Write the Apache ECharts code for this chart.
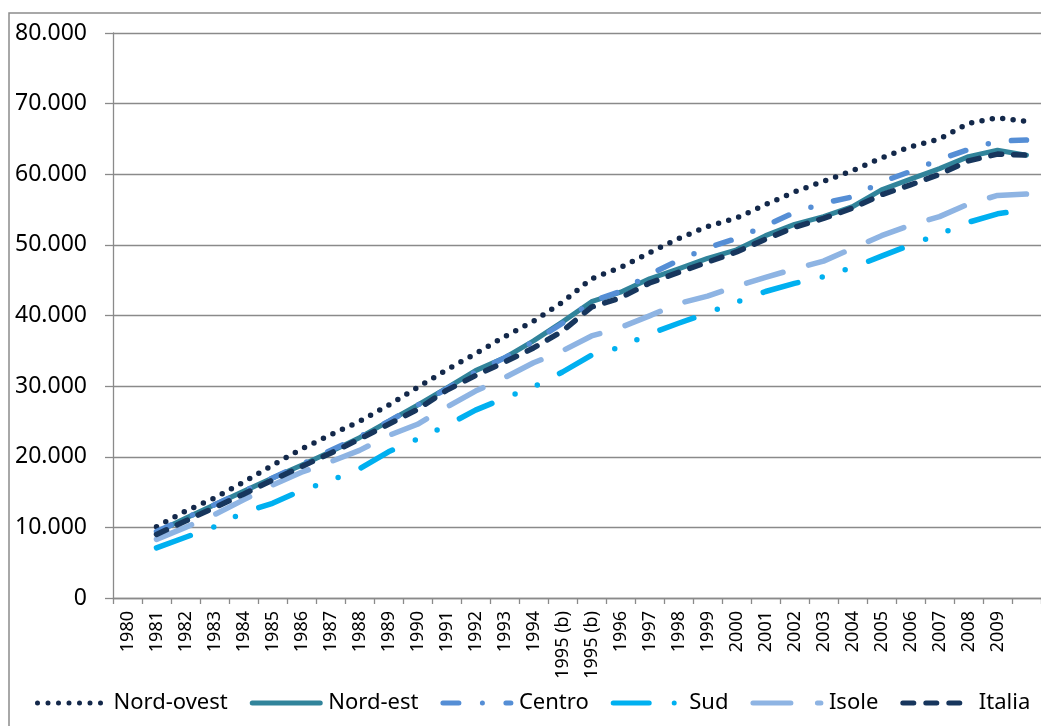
<!DOCTYPE html>
<html>
<head>
<meta charset="utf-8">
<script src="https://cdn.jsdelivr.net/npm/echarts@6/dist/echarts.min.js"></script>
<style>
  html, body { margin: 0; padding: 0; background: #ffffff; }
  #chart { width: 1041px; height: 726px; }
</style>
</head>
<body>
<div id="chart"></div>
<script>
// ---- Data ----
const categories = ['1980','1981','1982','1983','1984','1985','1986','1987','1988','1989','1990',
  '1991','1992','1993','1994','1995 (b)','1995 (b)','1996','1997','1998','1999','2000',
  '2001','2002','2003','2004','2005','2006','2007','2008','2009',''];

const yTickLabels = ['0','10.000','20.000','30.000','40.000','50.000','60.000','70.000','80.000'];

const nordOvest = [null, 10100, 12300, 14150, 16400, 18800, 21100, 23100, 25000, 27300, 29800,
  32300, 34600, 37000, 39200, 41900, 45200, 46800, 48900, 50900, 52600, 53800,
  55700, 57500, 59000, 60500, 62300, 63900, 65000, 67200, 68000, 67500];
const nordEst = [null, 9300, 11300, 13200, 15100, 17000, 18800, 20700, 22700, 25000, 27300,
  29700, 32200, 34000, 36400, 39100, 41950, 43300, 45200, 46600, 48100, 49300,
  51300, 52900, 54000, 55400, 57800, 59300, 60800, 62500, 63400, 62700];
const centro = [null, 9400, 11300, 13200, 15100, 17000, 18900, 20900, 22800, 25000, 27300,
  29600, 32000, 34000, 36300, 38900, 42000, 43400, 45800, 47800, 49600, 50900,
  52700, 54600, 55900, 56800, 58900, 60400, 62100, 63500, 64700, 64850];
const sud = [null, 7100, 8600, 10100, 12100, 13400, 15250, 16600, 18300, 20700, 22500,
  24400, 26600, 28300, 29900, 32000, 34400, 35500, 37400, 38900, 40350, 41900,
  43400, 44550, 45500, 46800, 48400, 50000, 51500, 53200, 54400, 55000];
const isole = [null, 8300, 10000, 11800, 13900, 16000, 17800, 19300, 20900, 23000, 24600,
  27000, 29300, 31200, 33300, 35000, 37100, 38300, 39950, 41700, 42750, 44150,
  45400, 46600, 47700, 49500, 51300, 52800, 54000, 55800, 57000, 57200];
const italia = [null, 9000, 10900, 12800, 14700, 16700, 18600, 20500, 22500, 24600, 26700,
  29400, 31500, 33400, 35400, 37800, 41200, 42500, 44600, 46100, 47550, 49000,
  50800, 52500, 53750, 55200, 57100, 58500, 60000, 61900, 62850, 62700];

const seriesNames = ['Nord-ovest', 'Nord-est', 'Centro', 'Sud', 'Isole', 'Italia'];

const FONT = 'Noto Sans';
const GRID_GRAY = '#8a8a8a';

function lineSeries(name, data, color, width, dash) {
  return {
    name: name,
    type: 'line',
    data: data,
    symbol: 'none',
    lineStyle: { color: color, width: width, type: dash, cap: 'round', join: 'round' },
    itemStyle: { color: color }
  };
}

const chart = echarts.init(document.getElementById('chart'));

chart.setOption({
  animation: false,
  backgroundColor: '#ffffff',
  textStyle: { fontFamily: FONT },
  graphic: [{
    type: 'rect',
    shape: { x: 9, y: 13, width: 1100, height: 800 },
    style: { fill: 'none', stroke: '#8c8c8c', lineWidth: 1.5 },
    silent: true, z: -10
  }],
  grid: { left: 113, top: 33, width: 938, bottom: 128 },
  legend: {
    data: seriesNames,
    left: 35, top: 692, width: 1006, padding: 0,
    itemWidth: 68, itemHeight: 12, itemGap: 22,
    lineStyle: { width: 5 },
    itemStyle: { opacity: 0 },
    textStyle: { fontFamily: FONT, fontSize: 22, color: '#000000', padding: [0, 0, 0, 3] }
  },
  xAxis: {
    type: 'category', data: categories, boundaryGap: true,
    axisLine: { show: true, lineStyle: { color: GRID_GRAY, width: 1.3 } },
    axisTick: { show: true, interval: 0, length: 6, lineStyle: { color: GRID_GRAY, width: 1.3 } },
    axisLabel: { interval: 0, rotate: 90, margin: 13, fontFamily: FONT, fontSize: 18, color: '#000000' },
    splitLine: { show: false }
  },
  yAxis: {
    type: 'value', min: 0, max: 80000, interval: 10000,
    axisLine: { show: true, lineStyle: { color: GRID_GRAY, width: 1.3 } },
    axisTick: { show: true, length: 8, lineStyle: { color: GRID_GRAY, width: 1.3 } },
    axisLabel: {
      margin: 26, fontFamily: FONT, fontSize: 23, color: '#000000',
      formatter: function (v) { return yTickLabels[Math.round(v / 10000)]; }
    },
    splitLine: { show: true, lineStyle: { color: GRID_GRAY, width: 1.3 } }
  },
  series: [
    lineSeries(seriesNames[0], nordOvest, '#13284a', 5.5, [0, 10.5]),
    lineSeries(seriesNames[1], nordEst, '#31849b', 5, 'solid'),
    lineSeries(seriesNames[2], centro, '#558ed5', 5.5, [16, 23.5, 0, 23.5]),
    lineSeries(seriesNames[3], sud, '#00b0f0', 5.5, [36, 25, 0, 24, 0, 25]),
    lineSeries(seriesNames[4], isole, '#8eb4e3', 5.5, [38, 26.5]),
    lineSeries(seriesNames[5], italia, '#17365d', 5.5, [11, 12])
  ]
});
</script>
</body>
</html>
